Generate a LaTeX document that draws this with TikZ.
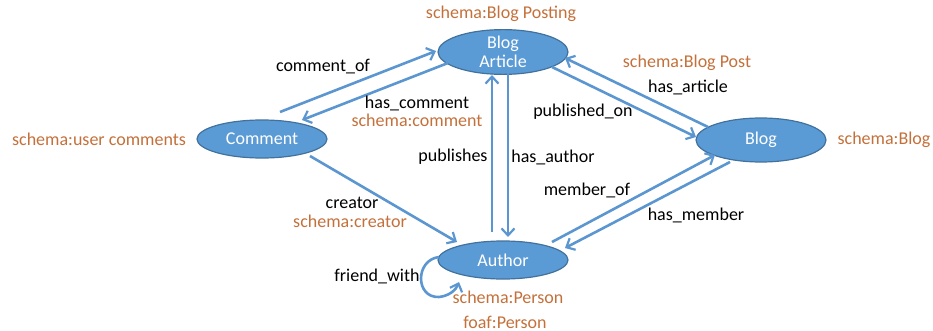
\documentclass[tikz,border=0pt]{standalone}
\usepackage{fontspec}
\setmainfont{Carlito}
\usetikzlibrary{arrows.meta,shapes.geometric}

\definecolor{nodefill}{RGB}{91,155,213}
\definecolor{nodeline}{RGB}{65,113,156}
\definecolor{edgeblue}{RGB}{91,150,208}
\definecolor{schemaorange}{RGB}{196,112,58}

\tikzset{
  entity/.style={ellipse, draw=nodeline, line width=1.2pt, fill=nodefill,
    text=white, inner sep=0pt, minimum width=130pt, minimum height=38pt,
    font=\fontsize{18}{21}\selectfont, align=center},
  rel/.style={draw=edgeblue, line width=2.6pt,
    -{Straight Barb[length=7pt,width=13pt,line width=2.2pt]}},
  lbl/.style={font=\fontsize{18}{21}\selectfont, text=black, inner sep=0pt},
  schema/.style={font=\fontsize{18}{21}\selectfont, text=schemaorange, inner sep=0pt}
}

\begin{document}
\begin{tikzpicture}[x=1pt,y=-1pt]
\useasboundingbox (0,0) rectangle (933,331);

% classes
\node[entity, minimum height=40pt] (ba) at (503,52) {Blog\\[-2pt]Article};
\node[entity] (cm) at (262,139) {Comment};
\node[entity] (au) at (503,260) {Author};
\node[entity, minimum height=44pt] (bl) at (761,140) {Blog};

% relations
\draw[rel] ([shift={(18,-27)}]cm.center) -- ([shift={(-67,-1)}]ba.center);
\draw[rel] ([shift={(-55,11)}]ba.center) -- ([shift={(40,-19)}]cm.center);
\draw[rel] ([shift={(-11,-28)}]au.center) -- ([shift={(-11,23)}]ba.center);
\draw[rel] ([shift={(5,21)}]ba.center) -- ([shift={(5,-23)}]au.center);
\draw[rel] ([shift={(49,15)}]ba.center) -- ([shift={(-65,-3)}]bl.center);
\draw[rel] ([shift={(-53,-13)}]bl.center) -- ([shift={(62,6)}]ba.center);
\draw[rel] ([shift={(49,-18)}]au.center) -- ([shift={(-46,15)}]bl.center);
\draw[rel] ([shift={(-31,22)}]bl.center) -- ([shift={(62,-12)}]au.center);
\draw[rel] ([shift={(48,17)}]cm.center) -- ([shift={(-46,-18)}]au.center);
% friend_with self loop
\draw[rel] ([shift={(-64,-3)}]au.center)
  .. controls ([shift={(-88,0)}]au.center) and ([shift={(-88,38)}]au.center)
  .. ([shift={(-64,37)}]au.center)
  .. controls ([shift={(-54,36)}]au.center) and ([shift={(-47,30)}]au.center)
  .. ([shift={(-44,22)}]au.center);

% relation labels
\node[lbl] (l1) at (323,67) {comment\_of};
\node[lbl] (l2) at (417,103) {has\_comment};
\node[lbl] (l3) at (453,157) {publishes};
\node[lbl] (l4) at (553,157) {has\_author};
\node[lbl] (l5) at (583,112) {published\_on};
\node[lbl] (l6) at (688,87) {has\_article};
\node[lbl] (l7) at (587,190) {member\_of};
\node[lbl] (l8) at (696,215) {has\_member};
\node[lbl] (l9) at (352,203) {creator};
\node[lbl] (l10) at (377,276) {friend\_with};

% vocabulary terms
\node[schema] (s1) at (501,14) {schema:Blog Posting};
\node[schema] (s2) at (417,120) {schema:comment};
\node[schema] (s3) at (99,139) {schema:user comments};
\node[schema] (s4) at (687,63) {schema:Blog Post};
\node[schema] (s5) at (884,140) {schema:Blog};
\node[schema] (s6) at (350,221) {schema:creator};
\node[schema] (s7) at (508,297) {schema:Person};
\node[schema] (s8) at (505,322) {foaf:Person};
\end{tikzpicture}
\end{document}
